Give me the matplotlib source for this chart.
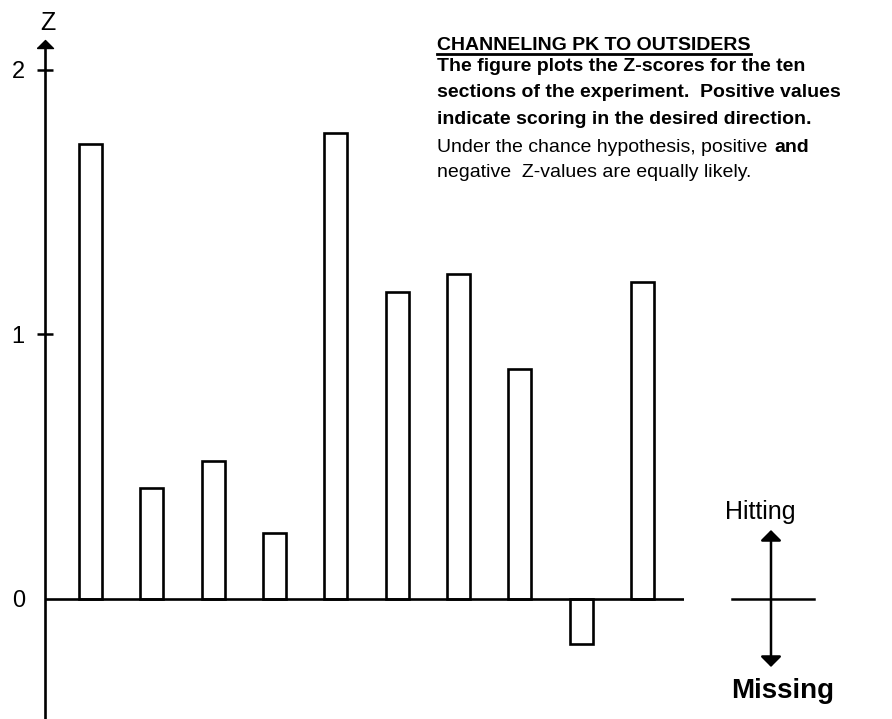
"""
plot.py -- Z-scores for the ten sections of the "Channeling PK to outsiders"
experiment, drawn as open bars with a hand-drawn style axis.
"""
import matplotlib
matplotlib.use("Agg")
import matplotlib.pyplot as plt
from matplotlib.lines import Line2D

SECTIONS = list(range(1, 11))
Z_SCORES = [1.72, 0.42, 0.52, 0.25, 1.76, 1.16, 1.23, 0.87, -0.17, 1.20]
Y_TICKS = [0, 1, 2]

TITLE = "CHANNELING PK TO OUTSIDERS"
BOLD_LINES = ["The figure plots the Z-scores for the ten",
              "sections of the experiment.  Positive values",
              "indicate scoring in the desired direction."]
PLAIN_LINES = ["Under the chance hypothesis, positive",
               "negative  Z-values are equally likely."]

W, H = 892, 719
plt.rcParams["font.family"] = ["Liberation Sans", "DejaVu Sans"]

# flat, wide arrowhead (base at the marker centre)
HEAD = [(-1, 0), (1, 0), (0, 1), (-1, 0)]


def fpx(x, y):
    # figure pixels measured from the top-left corner
    return x, H - y


def main():
    fig = plt.figure(figsize=(W / 100, H / 100), dpi=100)
    ax = fig.add_axes([45 / W, 1 / H, (684 - 45) / W, (718 - 48) / H])
    ax.set_xlim(0.256, 10.68)
    ax.set_ylim(-0.45, 2.083)

    ax.bar(SECTIONS, Z_SCORES, width=0.375, facecolor="white",
           edgecolor="black", linewidth=1.9, zorder=2)
    ax.axhline(0, color="black", lw=1.9, zorder=3)

    for s in ("top", "right", "bottom"):
        ax.spines[s].set_visible(False)
    ax.spines["left"].set_linewidth(1.9)
    ax.plot(0, 1, marker=HEAD, color="black", ms=11.5, transform=ax.transAxes,
            clip_on=False)
    ax.set_xticks([])
    ax.set_yticks(Y_TICKS)
    ax.set_yticklabels([str(t) for t in Y_TICKS])
    ax.tick_params(axis="y", direction="inout", length=11, width=1.8,
                   pad=9, labelsize=17)
    ax.yaxis.get_major_ticks()[0].tick1line.set_visible(False)

    # axis name above the arrow
    fig.text(48 / W, 1 - 23 / H, "Z", ha="center", va="center", fontsize=18)

    # caption block
    tx = 437
    t = fig.text(tx / W, 1 - 50 / H, TITLE, fontsize=14, fontweight="bold",
                 va="baseline")
    ys = [71, 97, 124, 152, 177]
    for y, line in zip(ys[:3], BOLD_LINES):
        fig.text(tx / W, 1 - y / H, line, fontsize=14, fontweight="bold",
                 va="baseline")
    t4 = fig.text(tx / W, 1 - ys[3] / H, PLAIN_LINES[0], fontsize=14,
                  va="baseline")
    fig.text(tx / W, 1 - ys[4] / H, PLAIN_LINES[1], fontsize=14,
             va="baseline")

    fig.canvas.draw()
    r = fig.canvas.get_renderer()
    bb = t4.get_window_extent(r)
    fig.text((bb.x1 + 7) / W, 1 - ys[3] / H, "and", fontsize=14,
             fontweight="bold", va="baseline")
    tb = t.get_window_extent(r)
    fig.add_artist(Line2D([tb.x0 / W, tb.x1 / W], [1 - 54 / H, 1 - 54 / H],
                          color="black", lw=2, transform=fig.transFigure))

    # hitting / missing key
    x0, y0 = fpx(732, 599)
    x1, _ = fpx(814, 599)
    fig.add_artist(Line2D([x0 / W, x1 / W], [y0 / H, y0 / H], color="black",
                          lw=1.8, transform=fig.transFigure))
    ax.annotate("", xy=fpx(771, 530), xytext=fpx(771, 667),
                xycoords="figure pixels", textcoords="figure pixels",
                arrowprops=dict(arrowstyle="<|-|>,head_length=0.45,head_width=0.45",
                                mutation_scale=14, lw=1.8, color="black",
                                shrinkA=0, shrinkB=0))
    fig.text(725 / W, 1 - 519 / H, "Hitting", fontsize=18, va="baseline")
    fig.text(731 / W, 1 - 698 / H, "Missing", fontsize=20, fontweight="bold",
             va="baseline")

    fig.savefig("out.png", dpi=100, facecolor="white")


if __name__ == "__main__":
    main()
